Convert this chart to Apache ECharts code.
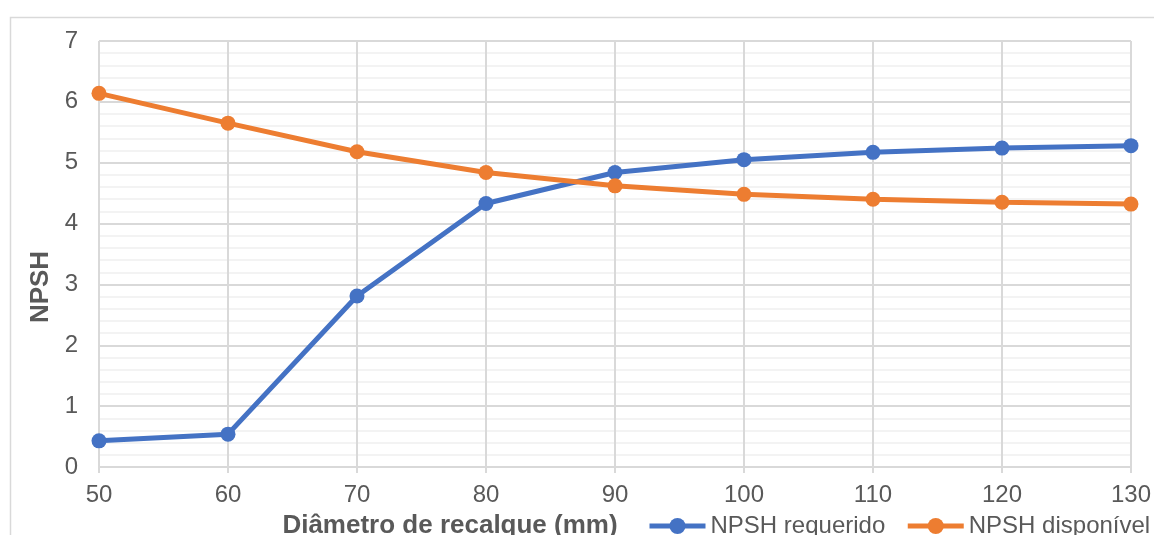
<!DOCTYPE html>
<html>
<head>
<meta charset="utf-8">
<script src="https://cdn.jsdelivr.net/npm/echarts@6/dist/echarts.min.js"></script>
<style>
html,body{margin:0;padding:0;background:#fff;}
#c{width:1154px;height:535px;}
</style>
</head>
<body>
<div id="c"></div>
<script>
var diametros = [50, 60, 70, 80, 90, 100, 110, 120, 130];
var npshRequerido = [0.43, 0.54, 2.81, 4.33, 4.84, 5.05, 5.17, 5.24, 5.28];
var npshDisponivel = [6.14, 5.65, 5.18, 4.84, 4.62, 4.48, 4.40, 4.35, 4.32];
var nomeRequerido = 'NPSH requerido';
var nomeDisponivel = 'NPSH disponível';
var tituloX = 'Diâmetro de recalque (mm)';
var tituloY = 'NPSH';

function pares(xs, ys) { return xs.map(function (x, i) { return [x, ys[i]]; }); }

var FONT = '"Liberation Sans", Arial, sans-serif';
var chart = echarts.init(document.getElementById('c'), null, {renderer: 'canvas'});
chart.setOption({
  animation: false,
  backgroundColor: '#ffffff',
  grid: {left: 99, top: 41, right: 22, bottom: 68, containLabel: false},
  graphic: [
    {type: 'rect', left: 8, top: 15, shape: {width: 1170, height: 560},
     style: {fill: 'none', stroke: '#d9d9d9', lineWidth: 1.5}, silent: true, z: -10},
    {type: 'text', x: 450, y: 526, style: {text: tituloX, fill: '#595959',
      font: 'bold 26px ' + FONT, align: 'center', verticalAlign: 'middle'}},
    {type: 'text', x: 41, y: 287, rotation: Math.PI / 2, style: {text: tituloY, fill: '#595959',
      font: 'bold 26px ' + FONT, align: 'center', verticalAlign: 'middle'}}
  ],
  legend: {
    left: 647, top: 514, width: 600, padding: 0, itemWidth: 56, itemHeight: 20, itemGap: 20,
    textStyle: {color: '#595959', fontSize: 24, fontFamily: FONT},
    lineStyle: {width: 5},
    data: [nomeRequerido, nomeDisponivel]
  },
  xAxis: {
    type: 'value', min: 50, max: 130, interval: 10,
    axisLine: {show: true, lineStyle: {color: '#d9d9d9', width: 2}},
    axisTick: {show: true, length: 6, lineStyle: {color: '#d9d9d9', width: 2}},
    axisLabel: {color: '#595959', fontSize: 24, fontFamily: FONT, margin: 16},
    splitLine: {show: true, lineStyle: {color: '#d9d9d9', width: 2}}
  },
  yAxis: {
    type: 'value', min: 0, max: 7, interval: 1,
    axisLine: {show: false}, axisTick: {show: false},
    axisLabel: {color: '#595959', fontSize: 24, fontFamily: FONT, margin: 21},
    splitLine: {show: true, lineStyle: {color: '#d9d9d9', width: 2}},
    minorTick: {show: false, splitNumber: 5},
    minorSplitLine: {show: true, lineStyle: {color: '#f0f0f0', width: 1.5}}
  },
  series: [
    {name: nomeRequerido, type: 'line', data: pares(diametros, npshRequerido),
     symbol: 'circle', symbolSize: 15, color: '#4472c4',
     lineStyle: {width: 5, color: '#4472c4'}, itemStyle: {color: '#4472c4'}, z: 3},
    {name: nomeDisponivel, type: 'line', data: pares(diametros, npshDisponivel),
     symbol: 'circle', symbolSize: 15, color: '#ed7d31',
     lineStyle: {width: 5, color: '#ed7d31'}, itemStyle: {color: '#ed7d31'}, z: 4}
  ]
});
</script>
</body>
</html>
